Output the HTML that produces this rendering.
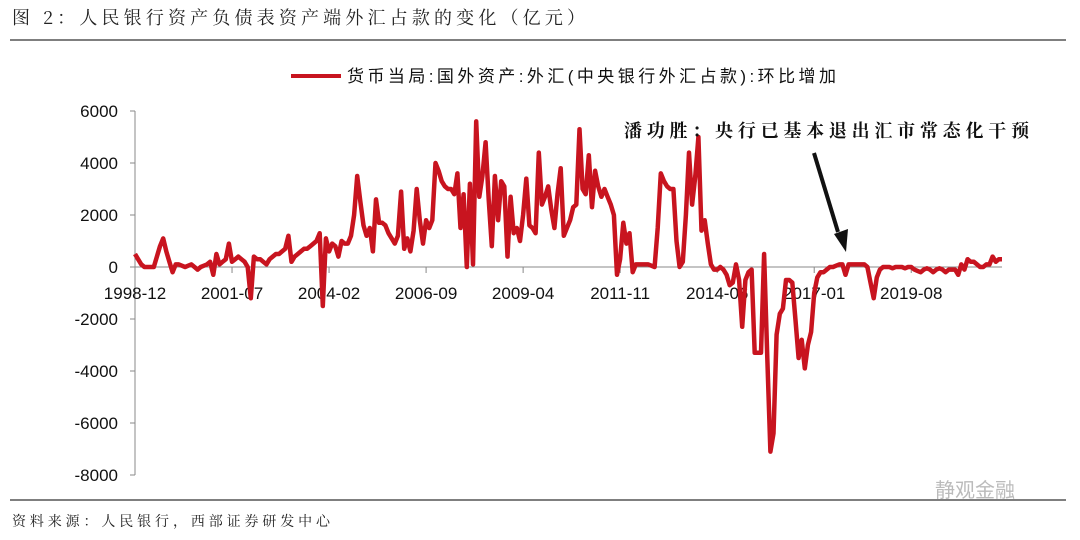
<!DOCTYPE html>
<html><head><meta charset="utf-8"><style>
body{margin:0;background:#fff;}
#wrap{position:relative;width:1080px;height:540px;overflow:hidden;background:#fff;}
svg text{font-family:"Liberation Sans","Noto Sans CJK SC",sans-serif;}
</style></head><body>
<div id="wrap">
<svg id="chart" width="1080" height="540">
<text x="12" y="24" font-size="18" fill="#222" textLength="573" lengthAdjust="spacing" style="font-family:'Noto Serif CJK SC','Noto Sans CJK SC',serif">图 2：人民银行资产负债表资产端外汇占款的变化（亿元）</text>
<line x1="10" y1="40" x2="1066" y2="40" stroke="#333" stroke-width="1.2"/>
<g>
<line x1="291" y1="76" x2="341" y2="76" stroke="#c8141f" stroke-width="4"/>
<text x="347" y="82" font-size="17" fill="#111" textLength="489" lengthAdjust="spacing">货币当局:国外资产:外汇(中央银行外汇占款):环比增加</text>
</g>
<g id="axes"></g>
<text x="624" y="137" font-size="18" font-weight="bold" fill="#111" textLength="405" lengthAdjust="spacing" style="font-family:'Noto Serif CJK SC',serif">潘功胜：央行已基本退出汇市常态化干预</text>
<g>
<line x1="814" y1="153" x2="838" y2="232" stroke="#111" stroke-width="4"/>
<polygon points="834,234 846,252 848,229" fill="#111"/>
</g>
<line x1="10" y1="500" x2="1066" y2="500" stroke="#333" stroke-width="1.2"/>
<text x="12" y="526" font-size="14" fill="#222" textLength="318" lengthAdjust="spacing" style="font-family:'Noto Serif CJK SC',serif">资料来源：人民银行，西部证券研发中心</text>
<text x="935" y="497" font-size="20" fill="#bbb">静观金融</text>
</svg>
</div>
<script>
const tickLabels=["1998-12","2001-07","2004-02","2006-09","2009-04","2011-11","2014-06","2017-01","2019-08"];
const yTicks=[6000,4000,2000,0,-2000,-4000,-6000,-8000];
const values=[500,300,100,0,0,0,0,400,800,1100,600,200,-200,100,100,50,0,50,100,0,-100,0,50,100,200,-300,500,100,200,300,900,200,300,400,300,200,0,-1200,400,300,300,200,100,300,400,500,500,600,700,1200,200,400,500,600,700,700,800,900,1000,1300,-1500,1100,600,900,800,400,1000,900,900,1200,2000,3500,2500,1600,1200,1500,600,2600,1700,1700,1600,1300,1100,900,1200,2900,700,1100,600,1400,3000,1800,900,1800,1500,1800,4000,3700,3300,3100,3000,3000,2800,3600,1500,2800,0,3200,100,5600,2700,3500,4800,2600,800,3500,1800,3300,3100,400,2700,1300,1500,1000,2000,3400,1600,1500,1300,4400,2400,2700,3100,2200,1500,2800,3800,1200,1500,1800,2300,2400,5300,3000,2800,4300,2300,3700,3100,2700,3000,2700,2400,2000,-300,300,1700,900,1300,-200,100,100,100,100,100,50,0,1500,3600,3300,3100,3000,3000,1000,0,200,2000,4400,2400,3500,5000,1400,1800,900,100,-100,-100,0,-100,-300,-700,-600,100,-500,-2300,-500,-200,-100,-3300,-3300,-3300,500,-3500,-7100,-6400,-2600,-1800,-1600,-500,-500,-600,-2000,-3500,-2800,-3900,-3000,-2500,-1000,-400,-200,-200,-100,0,0,50,100,100,-300,100,100,100,100,100,100,0,-600,-1200,-400,-100,0,0,0,-50,0,0,0,-50,0,0,-100,-150,-200,-100,-50,-100,-200,-100,-50,-100,-200,-100,-100,-100,-300,100,-100,300,200,200,100,0,0,100,100,400,200,300,300];
const NS="http://www.w3.org/2000/svg";
const X0=135,PXM=3.13,Y0=267,PXV=26/1000;
function xs(i){return X0+i*PXM;}
function ys(v){return Y0-v*PXV;}
const g=document.getElementById('axes');
function mk(t,a){const e=document.createElementNS(NS,t);for(const k in a)e.setAttribute(k,a[k]);g.appendChild(e);return e;}
let e=mk('line',{x1:X0,y1:ys(6000),x2:X0,y2:ys(-8000),stroke:'#888','stroke-width':1});


yTicks.forEach(v=>{
 const t=mk('line',{x1:X0-5,y1:ys(v),x2:X0,y2:ys(v),stroke:'#888'});
 
 
 const l=mk('text',{x:X0-17,y:ys(v)+6,'font-size':17,'text-anchor':'end',fill:'#111'});
 l.textContent=v;
 
 
});
e=mk('line',{x1:X0,y1:Y0,x2:xs(values.length-1),y2:Y0,stroke:'#888','stroke-width':1});


tickLabels.forEach((s,k)=>{
 const x=xs(k*31);
 const t=mk('line',{x1:x,y1:Y0,x2:x,y2:Y0+6,stroke:'#888'});
 
 
 const l=mk('text',{x:x,y:Y0+32,'font-size':17,'text-anchor':'middle',fill:'#111'});
 l.textContent=s;
 
 
});
const p=mk('polyline',{points:values.map((v,i)=>xs(i).toFixed(1)+','+ys(v).toFixed(1)).join(' '),fill:'none',stroke:'#c8141f','stroke-width':4.5,'stroke-linejoin':'round'});


</script>
</body></html>
